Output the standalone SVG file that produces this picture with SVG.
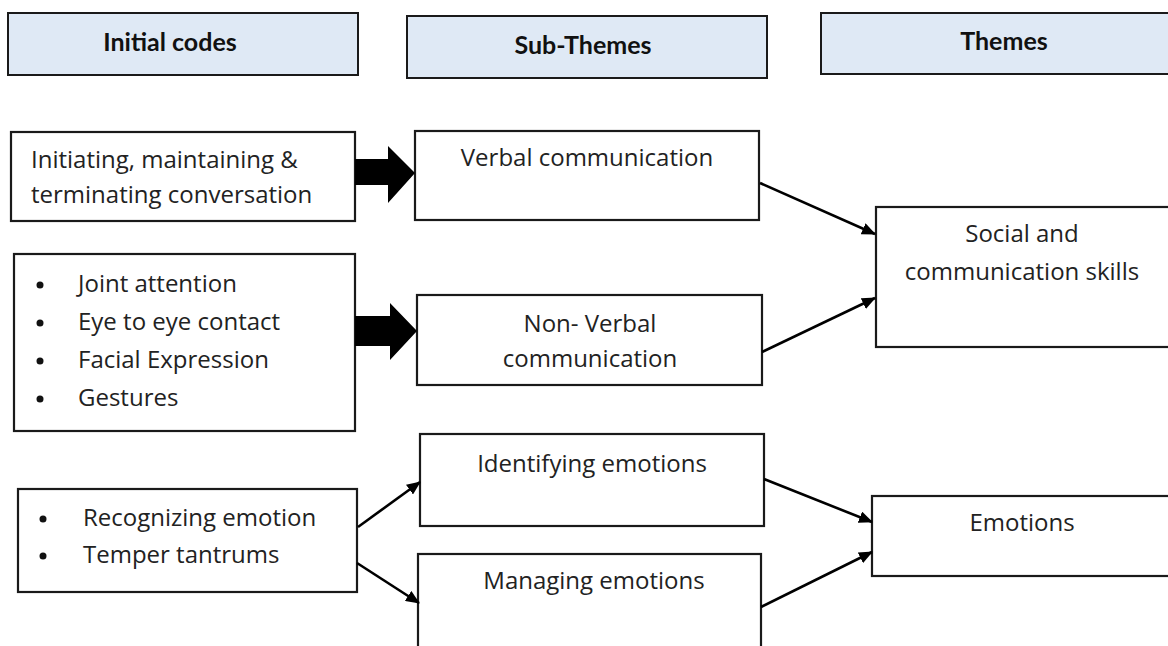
<svg xmlns="http://www.w3.org/2000/svg" width="1168" height="646" viewBox="0 0 1168 646">
<style>
.hdr{fill:#dfe9f5;stroke:#1a1a1a;stroke-width:2}
.box{fill:#fff;stroke:#1a1a1a;stroke-width:2.2}
.ht{font-family:Lato,"Liberation Sans",sans-serif;font-weight:bold;font-size:25px;fill:#111;text-anchor:middle}
.t{font-family:"Open Sans","Liberation Sans",sans-serif;font-size:24px;fill:#222}
.c{text-anchor:middle}
.ln{stroke:#000;stroke-width:2.6;fill:none;marker-end:url(#ah)}
.blk{fill:#000}
.dot{fill:#111}
</style>
<defs>
<marker id="ah" viewBox="0 0 14 12" refX="13" refY="6" markerWidth="14" markerHeight="12" markerUnits="userSpaceOnUse" orient="auto">
<path d="M0,0 L14,6 L0,12 Z" fill="#000"/>
</marker>
</defs>
<rect width="1168" height="646" fill="#fff"/>
<g id="h1"><rect class="hdr" x="8" y="13" width="350" height="62"/><text class="ht" x="170" y="51">Initial codes</text></g>
<g id="h2"><rect class="hdr" x="407" y="16" width="360" height="62"/><text class="ht" x="583" y="54">Sub-Themes</text></g>
<g id="h3"><rect class="hdr" x="821" y="13" width="350" height="61"/><text class="ht" x="1004" y="50">Themes</text></g>

<g id="n1"><rect class="box" x="11" y="132" width="344" height="89"/>
<text class="t" x="31" y="168">Initiating, maintaining &amp;</text>
<text class="t" x="31" y="203">terminating conversation</text></g>
<g id="n2"><rect class="box" x="14" y="254" width="341" height="177"/>
<circle class="dot" cx="40" cy="285" r="3.5"/><circle class="dot" cx="40" cy="323" r="3.5"/><circle class="dot" cx="40" cy="361" r="3.5"/><circle class="dot" cx="40" cy="399" r="3.5"/>
<text class="t" x="78" y="292">Joint attention</text>
<text class="t" x="78" y="330">Eye to eye contact</text>
<text class="t" x="78" y="368">Facial Expression</text>
<text class="t" x="78" y="406">Gestures</text></g>
<g id="n3"><rect class="box" x="18" y="489" width="339" height="103"/>
<circle class="dot" cx="43" cy="519" r="3.5"/><circle class="dot" cx="43" cy="556" r="3.5"/>
<text class="t" x="83" y="526">Recognizing emotion</text>
<text class="t" x="83" y="563">Temper tantrums</text></g>

<g id="s1"><rect class="box" x="415" y="131" width="344" height="89"/><text class="t c" x="587" y="166">Verbal communication</text></g>
<g id="s2"><rect class="box" x="417" y="295" width="345" height="90"/><text class="t c" x="590" y="332">Non- Verbal</text><text class="t c" x="590" y="367">communication</text></g>
<g id="s3"><rect class="box" x="420" y="434" width="344" height="92"/><text class="t c" x="592" y="472">Identifying emotions</text></g>
<g id="s4"><rect class="box" x="418" y="554" width="343" height="100"/><text class="t c" x="594" y="589">Managing emotions</text></g>

<g id="t1"><rect class="box" x="876" y="207" width="300" height="140"/><text class="t c" x="1022" y="242">Social and</text><text class="t c" x="1022" y="280">communication skills</text></g>
<g id="t2"><rect class="box" x="872" y="496" width="300" height="80"/><text class="t c" x="1022" y="531">Emotions</text></g>

<g id="connectors">
<path class="blk" d="M355,159 L388,159 L388,146 L415,173 L388,203 L388,185 L355,185 Z"/>
<path class="blk" d="M355,316 L390,316 L390,303 L417,331 L390,360 L390,346 L355,346 Z"/>
<line class="ln" x1="760" y1="183" x2="875" y2="234"/>
<line class="ln" x1="762" y1="352" x2="875" y2="298"/>
<line class="ln" x1="358" y1="527" x2="420" y2="482"/>
<line class="ln" x1="357" y1="563" x2="419" y2="603"/>
<line class="ln" x1="764" y1="479" x2="872" y2="522"/>
<line class="ln" x1="761" y1="607" x2="872" y2="552"/>
</g>
</svg>
